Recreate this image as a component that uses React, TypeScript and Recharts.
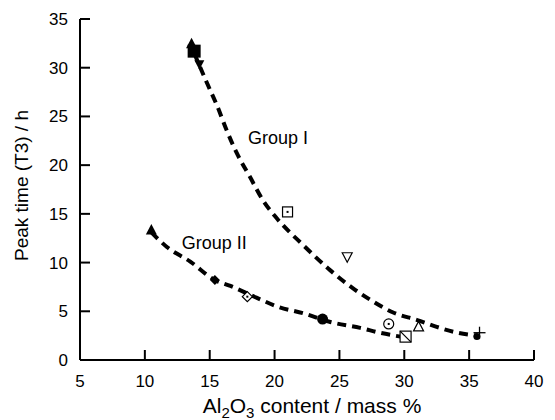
import React from 'react';
import { ComposedChart, Line, Scatter, XAxis, YAxis } from 'recharts';

const xTicks = [5, 10, 15, 20, 25, 30, 35, 40];
const yTicks = [0, 5, 10, 15, 20, 25, 30, 35];

// Group I measured points
const group1X = [13.8, 13.6, 14.2, 21.0, 25.6, 31.1, 35.8, 35.6];
const group1Y = [31.7, 32.4, 30.4, 15.2, 10.6, 3.4, 2.8, 2.4];
const group1Marker = ['squareFilled', 'triangleFilled', 'triangleDownFilled', 'squareDot', 'triangleDownOpen', 'triangleOpen', 'plus', 'circleFilled'];

// Group II measured points
const group2X = [10.5, 15.4, 17.9, 23.7, 28.8, 30.1];
const group2Y = [13.3, 8.2, 6.5, 4.2, 3.7, 2.4];
const group2Marker = ['triangleFilled', 'diamondFilled', 'diamondDot', 'hexFilled', 'circleDot', 'squareSlash'];

// dashed trend curves
const curve1X = [13.8, 14.8, 15.6, 16.3, 17.1, 18.1, 19.1, 20.2, 22.2, 24.3, 26.0, 27.6, 29.1, 31.0, 32.5, 34.1, 35.6];
const curve1Y = [31.5, 28.4, 26.0, 23.6, 21.2, 18.8, 16.4, 14.5, 11.8, 9.2, 7.4, 6.0, 4.9, 4.1, 3.4, 2.8, 2.5];
const curve2X = [10.5, 11.7, 13.5, 15.4, 16.6, 18.6, 20.4, 22.2, 24.3, 26.6, 28.1, 29.7];
const curve2Y = [13.1, 11.6, 10.1, 8.2, 7.6, 6.4, 5.4, 4.8, 3.9, 3.3, 2.8, 2.4];

const groupLabels = ['Group I', 'Group II'];
const groupLabelX = [17.95, 12.85];
const groupLabelY = [22.2, 11.4];

const font = '"Liberation Sans", Arial, Helvetica, sans-serif';

const pts = (xs: number[], ys: number[], extra?: string[]) =>
  xs.map((x, i) => ({ x, y: ys[i], tag: extra ? extra[i] : undefined }));

const Marker = (props: any) => {
  const { cx, cy, payload } = props;
  if (cx == null || cy == null) return null;
  const k = '#000';
  switch (payload.tag) {
    case 'squareFilled':
      return <rect x={cx - 6.5} y={cy - 6.5} width={13} height={13} fill={k} />;
    case 'triangleFilled':
      return <polygon points={`${cx},${cy - 6.5} ${cx - 5.5},${cy + 4} ${cx + 5.5},${cy + 4}`} fill={k} />;
    case 'triangleDownFilled':
      return <polygon points={`${cx},${cy + 6} ${cx - 5},${cy - 3.5} ${cx + 5},${cy - 3.5}`} fill={k} />;
    case 'triangleDownOpen':
      return <polygon points={`${cx},${cy + 5.5} ${cx - 5},${cy - 4} ${cx + 5},${cy - 4}`} fill="#fff" stroke={k} strokeWidth={1.2} />;
    case 'triangleOpen':
      return <polygon points={`${cx},${cy - 5.5} ${cx - 5},${cy + 4} ${cx + 5},${cy + 4}`} fill="#fff" stroke={k} strokeWidth={1.2} />;
    case 'squareDot':
      return (
        <g>
          <rect x={cx - 5} y={cy - 5} width={10} height={10} fill="#fff" stroke={k} strokeWidth={1.2} />
          <rect x={cx - 1} y={cy - 1} width={2} height={2} fill={k} />
        </g>
      );
    case 'plus':
      return (
        <g stroke={k} strokeWidth={1.3}>
          <line x1={cx - 6} y1={cy} x2={cx + 6} y2={cy} />
          <line x1={cx} y1={cy - 6} x2={cx} y2={cy + 6} />
        </g>
      );
    case 'circleFilled':
      return <circle cx={cx} cy={cy} r={3.5} fill={k} />;
    case 'diamondFilled':
      return <polygon points={`${cx},${cy - 5} ${cx + 5},${cy} ${cx},${cy + 5} ${cx - 5},${cy}`} fill={k} />;
    case 'diamondDot':
      return (
        <g>
          <polygon points={`${cx},${cy - 5} ${cx + 5},${cy} ${cx},${cy + 5} ${cx - 5},${cy}`} fill="#fff" stroke={k} strokeWidth={1.2} />
          <rect x={cx - 1} y={cy - 1} width={2} height={2} fill={k} />
        </g>
      );
    case 'hexFilled':
      return <circle cx={cx} cy={cy} r={5.5} fill={k} />;
    case 'circleDot':
      return (
        <g>
          <circle cx={cx} cy={cy} r={5} fill="#fff" stroke={k} strokeWidth={1.2} />
          <rect x={cx - 1} y={cy - 1} width={2} height={2} fill={k} />
        </g>
      );
    case 'squareSlash':
      return (
        <g stroke={k} strokeWidth={1.2}>
          <rect x={cx - 5.5} y={cy - 5.5} width={11} height={11} fill="#fff" />
          <line x1={cx - 5.5} y1={cy - 5.5} x2={cx + 5.5} y2={cy + 5.5} />
        </g>
      );
    default:
      return null;
  }
};

const GroupText = (props: any) => {
  const { cx, cy, payload } = props;
  if (cx == null || cy == null) return null;
  return (
    <text x={cx} y={cy} fontSize={18} fontFamily={font} fill="#000">
      {payload.tag}
    </text>
  );
};

const BottomTick = (props: any) => {
  const { x, y, payload } = props;
  return (
    <g>
      <line x1={x} y1={y} x2={x} y2={y - 10} stroke="#000" strokeWidth={2} />
      <text x={x} y={y + 27} textAnchor="middle" fontSize={17} fontFamily={font} fill="#000">
        {payload.value}
      </text>
    </g>
  );
};

const LeftTick = (props: any) => {
  const { x, y, payload } = props;
  return (
    <g>
      <line x1={x} y1={y} x2={x + 10} y2={y} stroke="#000" strokeWidth={2} />
      <text x={x - 12} y={y + 6} textAnchor="end" fontSize={17} fontFamily={font} fill="#000">
        {payload.value}
      </text>
    </g>
  );
};

const TopTick = (props: any) => {
  const { x, y } = props;
  return <line x1={x} y1={y} x2={x} y2={y + 10} stroke="#000" strokeWidth={2} />;
};

const RightTick = (props: any) => {
  const { x, y } = props;
  return <line x1={x} y1={y} x2={x - 10} y2={y} stroke="#000" strokeWidth={2} />;
};

const XTitle = (props: any) => {
  const { viewBox } = props;
  const cx = viewBox.x + viewBox.width / 2 + 5;
  const by = viewBox.y + 53;
  return (
    <text x={cx} y={by} textAnchor="middle" fontSize={21} fontFamily={font} fill="#000">
      Al
      <tspan fontSize={15} dy={5}>2</tspan>
      <tspan dy={-5}>O</tspan>
      <tspan fontSize={15} dy={5}>3</tspan>
      <tspan dy={-5}> content / mass %</tspan>
    </text>
  );
};

const YTitle = (props: any) => {
  const { viewBox } = props;
  const x = 28;
  const y = viewBox.y + viewBox.height / 2 - 4;
  return (
    <text x={x} y={y} transform={`rotate(-90, ${x}, ${y})`} textAnchor="middle" fontSize={19} fontFamily={font} fill="#000">
      Peak time (T3) / h
    </text>
  );
};

const axisLine = { stroke: '#000', strokeWidth: 2 };
const dashed = { stroke: '#000', strokeWidth: 4, strokeDasharray: '9 6' };

export default function App() {
  const group1 = pts(group1X, group1Y, group1Marker);
  const group2 = pts(group2X, group2Y, group2Marker);
  const curve1 = pts(curve1X, curve1Y);
  const curve2 = pts(curve2X, curve2Y);
  const labels = pts(groupLabelX, groupLabelY, groupLabels);

  return (
    <div style={{ position: 'absolute', left: 0, top: 0, background: '#fff' }}>
      <ComposedChart width={555} height={420} margin={{ top: 19, right: 21, bottom: 0, left: 0 }}>
        <XAxis
          xAxisId="b"
          type="number"
          dataKey="x"
          domain={[5, 40]}
          ticks={xTicks}
          interval={0}
          height={60}
          tickSize={0}
          tickMargin={0}
          tickLine={false}
          axisLine={axisLine}
          tick={BottomTick}
          allowDataOverflow
          label={{ content: XTitle }}
        />
        <XAxis
          xAxisId="t"
          orientation="top"
          type="number"
          dataKey="x"
          domain={[5, 40]}
          ticks={xTicks}
          interval={0}
          height={0}
          tickSize={0}
          tickMargin={0}
          tickLine={false}
          axisLine={axisLine}
          tick={TopTick}
          allowDataOverflow
        />
        <YAxis
          yAxisId="l"
          type="number"
          dataKey="y"
          domain={[0, 35]}
          ticks={yTicks}
          interval={0}
          width={80}
          tickSize={0}
          tickMargin={0}
          tickLine={false}
          axisLine={axisLine}
          tick={LeftTick}
          allowDataOverflow
          label={{ content: YTitle }}
        />
        <YAxis
          yAxisId="r"
          orientation="right"
          type="number"
          dataKey="y"
          domain={[0, 35]}
          ticks={yTicks}
          interval={0}
          width={0}
          tickSize={0}
          tickMargin={0}
          tickLine={false}
          axisLine={axisLine}
          tick={RightTick}
          allowDataOverflow
        />
        <Line xAxisId="b" yAxisId="l" data={curve1} dataKey="y" type="monotone" {...dashed} dot={false} activeDot={false} isAnimationActive={false} />
        <Line xAxisId="b" yAxisId="l" data={curve2} dataKey="y" type="monotone" {...dashed} dot={false} activeDot={false} isAnimationActive={false} />
        <Scatter xAxisId="b" yAxisId="l" data={group1} dataKey="y" shape={Marker} isAnimationActive={false} />
        <Scatter xAxisId="b" yAxisId="l" data={group2} dataKey="y" shape={Marker} isAnimationActive={false} />
        <Scatter xAxisId="b" yAxisId="l" data={labels} dataKey="y" shape={GroupText} isAnimationActive={false} />
      </ComposedChart>
    </div>
  );
}
